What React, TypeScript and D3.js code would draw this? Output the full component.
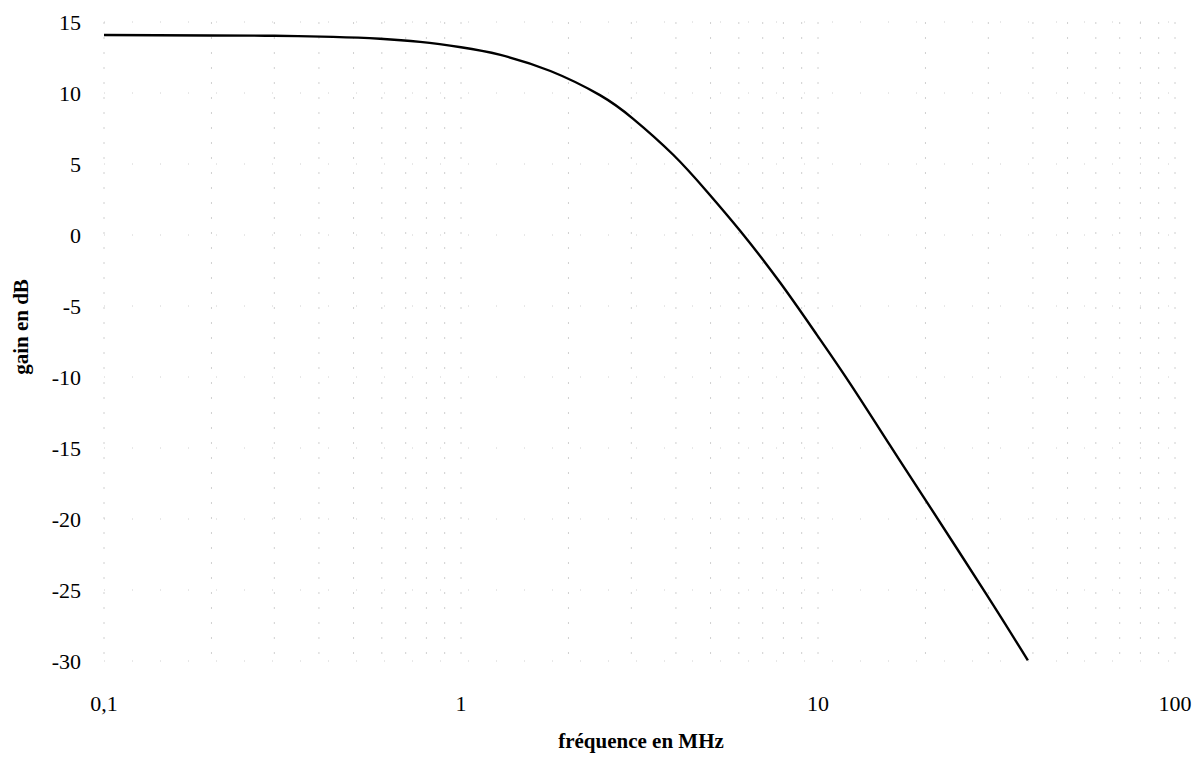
import { useEffect, useRef } from "react";
import * as d3 from "d3";

// frequency (MHz) and gain (dB)
const freqs = [0.1, 0.198, 0.3, 0.438, 0.593, 0.768, 1.0, 1.29, 1.78, 2.45, 3.03, 3.93, 4.89, 6.05, 7.83, 9.94, 12.29, 15.9, 19.7, 29.7, 38.7];
const gains = [14.08, 14.05, 14.03, 13.95, 13.82, 13.6, 13.22, 12.68, 11.55, 9.85, 8.2, 5.65, 3.05, 0.3, -3.35, -7.05, -10.45, -14.8, -18.4, -25.35, -29.95];

const xTicks = [0.1, 1, 10, 100];
const xTickLabels = ["0,1", "1", "10", "100"];
const yTicks = [15, 10, 5, 0, -5, -10, -15, -20, -25, -30];

const App = () => {
  const ref = useRef<SVGSVGElement>(null);

  useEffect(() => {
    const svg = d3.select(ref.current);
    svg.selectAll("*").remove();

    const x = d3.scaleLog().domain([0.1, 100]).range([104, 1175]);
    const y = d3.scaleLinear().domain([-30, 15]).range([661, 22]);

    const grid = svg.append("g").attr("stroke", "#c4c4c4").attr("stroke-width", 0.8).attr("stroke-dasharray", "2 13");

    // minor log grid lines
    const minor: number[] = [];
    [0.1, 1, 10].forEach((dec) => {
      for (let k = 1; k <= 9; k++) minor.push(dec * k);
    });
    minor.push(100);
    grid.selectAll(".vg")
      .data(minor)
      .enter()
      .append("line")
      .attr("x1", (d) => x(d))
      .attr("x2", (d) => x(d))
      .attr("y1", y(15))
      .attr("y2", y(-30));

    grid.selectAll(".hg")
      .data(yTicks)
      .enter()
      .append("line")
      .attr("x1", x(0.1))
      .attr("x2", x(100))
      .attr("y1", (d) => y(d))
      .attr("y2", (d) => y(d))
      .attr("stroke-dasharray", "1 27");

    const pts = freqs.map((f, i) => [f, gains[i]] as [number, number]);
    const line = d3.line<[number, number]>()
      .x((d) => x(d[0]))
      .y((d) => y(d[1]))
      .curve(d3.curveNatural);

    svg.append("path")
      .datum(pts)
      .attr("d", line)
      .attr("fill", "none")
      .attr("stroke", "#000")
      .attr("stroke-width", 2.4);

    svg.selectAll(".ylab")
      .data(yTicks)
      .enter()
      .append("text")
      .attr("x", 81)
      .attr("y", (d) => y(d))
      .attr("dy", "0.35em")
      .attr("text-anchor", "end")
      .style("font-family", "'Liberation Serif', serif")
      .style("font-size", "22px")
      .text((d) => String(d));

    svg.selectAll(".xlab")
      .data(xTicks)
      .enter()
      .append("text")
      .attr("x", (d) => x(d))
      .attr("y", 703)
      .attr("dy", "0.35em")
      .attr("text-anchor", "middle")
      .style("font-family", "'Liberation Serif', serif")
      .style("font-size", "22px")
      .text((d, i) => xTickLabels[i]);

    svg.append("text")
      .attr("x", 641)
      .attr("y", 748)
      .attr("text-anchor", "middle")
      .style("font-family", "'Liberation Serif', serif")
      .style("font-size", "21px")
      .style("font-weight", 700)
      .text("fréquence en MHz");

    svg.append("text")
      .attr("transform", "translate(28,327) rotate(-90)")
      .attr("text-anchor", "middle")
      .style("font-family", "'Liberation Serif', serif")
      .style("font-size", "21px")
      .style("font-weight", 700)
      .text("gain en dB");
  }, []);

  return (
    <svg
      ref={ref}
      width={1201}
      height={761}
      style={{ position: "absolute", left: 0, top: 0, background: "#fff" }}
    />
  );
};

export default App;
